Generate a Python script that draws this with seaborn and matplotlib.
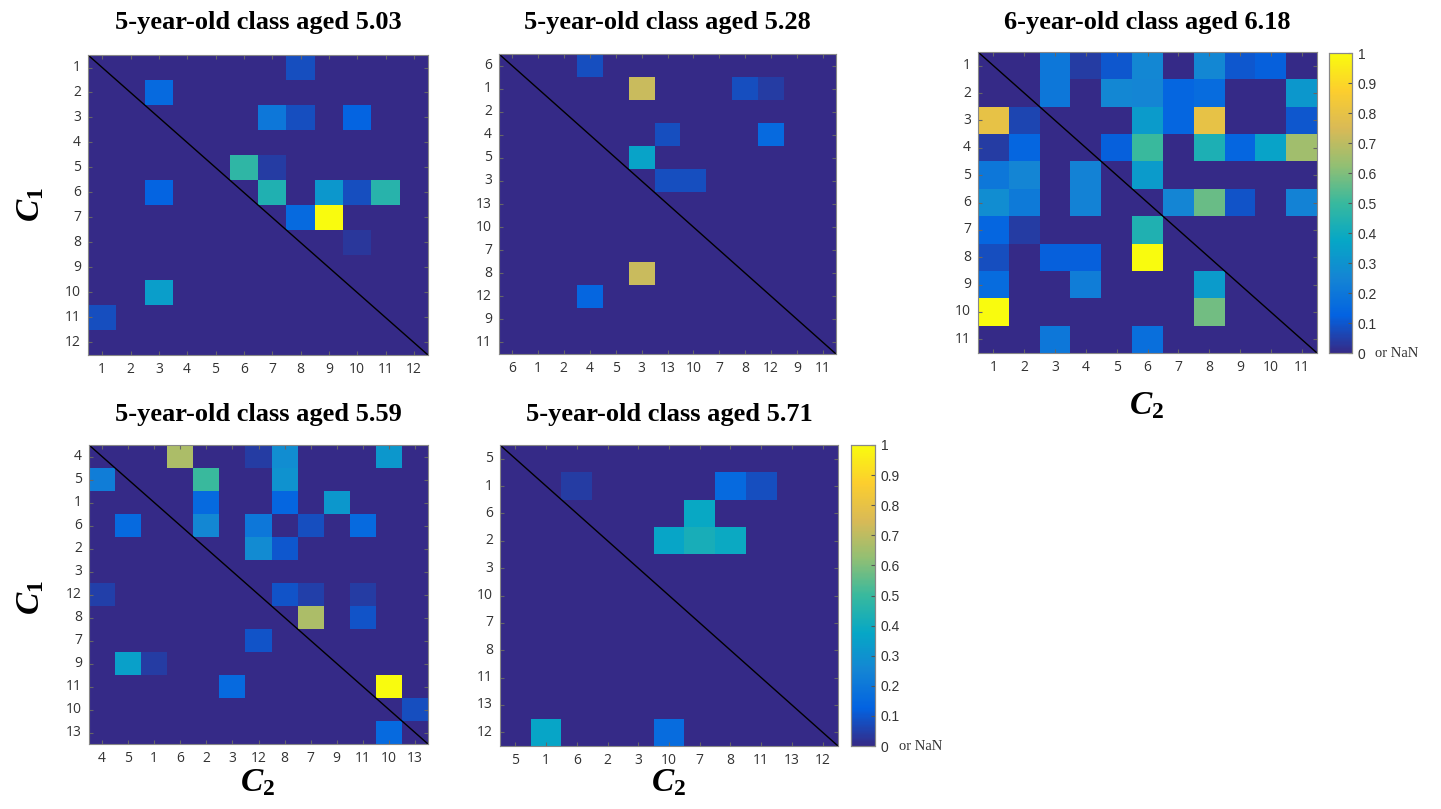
import numpy as np
import matplotlib.pyplot as plt
import seaborn as sns
from matplotlib.colors import LinearSegmentedColormap

# parula-like colormap (MATLAB default)
parula = LinearSegmentedColormap.from_list('parula', [
    '#352a87', '#0363e1', '#1485d4', '#06a7c6', '#38b99e',
    '#92bf73', '#d9ba56', '#fcce2e', '#f9fb0e'])

# --- data ---
titles = ['5-year-old class aged 5.03', '5-year-old class aged 5.28', '6-year-old class aged 6.18',
          '5-year-old class aged 5.59', '5-year-old class aged 5.71']

p1_labels = ['1', '2', '3', '4', '5', '6', '7', '8', '9', '10', '11', '12']
p1_vals = [
    [0, 0, 0, 0, 0, 0, 0, .08, 0, 0, 0, 0],
    [0, 0, .15, 0, 0, 0, 0, 0, 0, 0, 0, 0],
    [0, 0, 0, 0, 0, 0, .2, .08, 0, .13, 0, 0],
    [0, 0, 0, 0, 0, 0, 0, 0, 0, 0, 0, 0],
    [0, 0, 0, 0, 0, .48, .04, 0, 0, 0, 0, 0],
    [0, 0, .13, 0, 0, 0, .44, 0, .32, .08, .46, 0],
    [0, 0, 0, 0, 0, 0, 0, .15, 1, 0, 0, 0],
    [0, 0, 0, 0, 0, 0, 0, 0, 0, .03, 0, 0],
    [0, 0, 0, 0, 0, 0, 0, 0, 0, 0, 0, 0],
    [0, 0, .34, 0, 0, 0, 0, 0, 0, 0, 0, 0],
    [.08, 0, 0, 0, 0, 0, 0, 0, 0, 0, 0, 0],
    [0, 0, 0, 0, 0, 0, 0, 0, 0, 0, 0, 0],
]

p2_labels = ['6', '1', '2', '4', '5', '3', '13', '10', '7', '8', '12', '9', '11']
p2_vals = [
    [0, 0, 0, .08, 0, 0, 0, 0, 0, 0, 0, 0, 0],
    [0, 0, 0, 0, 0, .72, 0, 0, 0, .08, .04, 0, 0],
    [0, 0, 0, 0, 0, 0, 0, 0, 0, 0, 0, 0, 0],
    [0, 0, 0, 0, 0, 0, .08, 0, 0, 0, .15, 0, 0],
    [0, 0, 0, 0, 0, .36, 0, 0, 0, 0, 0, 0, 0],
    [0, 0, 0, 0, 0, 0, .08, .08, 0, 0, 0, 0, 0],
    [0, 0, 0, 0, 0, 0, 0, 0, 0, 0, 0, 0, 0],
    [0, 0, 0, 0, 0, 0, 0, 0, 0, 0, 0, 0, 0],
    [0, 0, 0, 0, 0, 0, 0, 0, 0, 0, 0, 0, 0],
    [0, 0, 0, 0, 0, .72, 0, 0, 0, 0, 0, 0, 0],
    [0, 0, 0, .14, 0, 0, 0, 0, 0, 0, 0, 0, 0],
    [0, 0, 0, 0, 0, 0, 0, 0, 0, 0, 0, 0, 0],
    [0, 0, 0, 0, 0, 0, 0, 0, 0, 0, 0, 0, 0],
]

p3_labels = ['1', '2', '3', '4', '5', '6', '7', '8', '9', '10', '11']
p3_vals = [
    [0, 0, .2, .04, .1, .26, 0, .26, .1, .12, 0],
    [0, 0, .2, 0, .26, .25, .14, .16, 0, 0, .32],
    [.8, .06, 0, 0, 0, .33, .14, .8, 0, 0, .1],
    [.04, .14, 0, 0, .12, .5, 0, .43, .14, .36, .65],
    [.2, .25, 0, .24, 0, .33, 0, 0, 0, 0, 0],
    [.28, .21, 0, .24, 0, 0, .25, .57, .09, 0, .24],
    [.14, .04, 0, 0, 0, .44, 0, 0, 0, 0, 0],
    [.08, 0, .12, .12, 0, 1, 0, 0, 0, 0, 0],
    [.16, 0, 0, .22, 0, 0, 0, .33, 0, 0, 0],
    [1, 0, 0, 0, 0, 0, 0, .58, 0, 0, 0],
    [0, 0, .2, 0, 0, .17, 0, 0, 0, 0, 0],
]

p4_labels = ['4', '5', '1', '6', '2', '3', '12', '8', '7', '9', '11', '10', '13']
p4_vals = [
    [0, 0, 0, .67, 0, 0, .04, .28, 0, 0, 0, .32, 0],
    [.22, 0, 0, 0, .5, 0, 0, .3, 0, 0, 0, 0, 0],
    [0, 0, 0, 0, .15, 0, 0, .14, 0, .32, 0, 0, 0],
    [0, .15, 0, 0, .26, 0, .2, 0, .08, 0, .15, 0, 0],
    [0, 0, 0, 0, 0, 0, .27, .1, 0, 0, 0, 0, 0],
    [0, 0, 0, 0, 0, 0, 0, 0, 0, 0, 0, 0, 0],
    [.05, 0, 0, 0, 0, 0, 0, .09, .05, 0, .04, 0, 0],
    [0, 0, 0, 0, 0, 0, 0, 0, .67, 0, .09, 0, 0],
    [0, 0, 0, 0, 0, 0, .09, 0, 0, 0, 0, 0, 0],
    [0, .35, .04, 0, 0, 0, 0, 0, 0, 0, 0, 0, 0],
    [0, 0, 0, 0, 0, .15, 0, 0, 0, 0, 0, 1, 0],
    [0, 0, 0, 0, 0, 0, 0, 0, 0, 0, 0, 0, .08],
    [0, 0, 0, 0, 0, 0, 0, 0, 0, 0, 0, .15, 0],
]

p5_labels = ['5', '1', '6', '2', '3', '10', '7', '8', '11', '13', '12']
p5_vals = [
    [0, 0, 0, 0, 0, 0, 0, 0, 0, 0, 0],
    [0, 0, .04, 0, 0, 0, 0, .15, .08, 0, 0],
    [0, 0, 0, 0, 0, 0, .38, 0, 0, 0, 0],
    [0, 0, 0, 0, 0, .37, .42, .39, 0, 0, 0],
    [0, 0, 0, 0, 0, 0, 0, 0, 0, 0, 0],
    [0, 0, 0, 0, 0, 0, 0, 0, 0, 0, 0],
    [0, 0, 0, 0, 0, 0, 0, 0, 0, 0, 0],
    [0, 0, 0, 0, 0, 0, 0, 0, 0, 0, 0],
    [0, 0, 0, 0, 0, 0, 0, 0, 0, 0, 0],
    [0, 0, 0, 0, 0, 0, 0, 0, 0, 0, 0],
    [0, .37, 0, 0, 0, .16, 0, 0, 0, 0, 0],
]

cbar_ticks = [0, 0.1, 0.2, 0.3, 0.4, 0.5, 0.6, 0.7, 0.8, 0.9, 1]

# --- layout in pixels ---
W, H = 1441, 809
# bold italic C with bold subscript for the axis labels
plt.rcParams['mathtext.fontset'] = 'custom'
plt.rcParams['mathtext.it'] = 'Liberation Serif:bold:italic'
plt.rcParams['mathtext.rm'] = 'Liberation Serif:bold'
plt.rcParams['mathtext.bf'] = 'Liberation Serif:bold'


def rect(x0, y0, x1, y1):
    return [x0 / W, 1 - y1 / H, (x1 - x0) / W, (y1 - y0) / H]


fig = plt.figure(figsize=(W / 100, H / 100), dpi=100)

panels = [
    (p1_vals, p1_labels, (88, 55, 428, 355), None),
    (p2_vals, p2_labels, (499, 54, 836, 354), None),
    (p3_vals, p3_labels, (978, 52, 1317, 353), (1329, 53, 1352, 353)),
    (p4_vals, p4_labels, (89, 445, 428, 744), None),
    (p5_vals, p5_labels, (500, 445, 838, 746), (851, 445, 875, 746)),
]

tick_font = dict(family='Open Sans', size=10, color='#333333')

for i, (vals, labels, box, cbox) in enumerate(panels):
    ax = fig.add_axes(rect(*box))
    mat = np.array(vals, dtype=float)
    n = len(labels)
    if cbox is not None:
        cax = fig.add_axes(rect(*cbox))
        sns.heatmap(mat, ax=ax, cmap=parula, vmin=0, vmax=1, cbar=True, cbar_ax=cax,
                    xticklabels=labels, yticklabels=labels)
        cax.set_yticks(cbar_ticks)
        cax.set_yticklabels(['0'] + ['%.1f' % t for t in cbar_ticks[1:-1]] + ['1'],
                            family='Liberation Sans', fontsize=10, color='#333333')
        cax.tick_params(axis='y', direction='in', length=3, color='#555555', pad=4)
        for sp in cax.spines.values():
            sp.set_visible(True)
            sp.set_color('#888888')
            sp.set_linewidth(0.8)
        cax.text(2.0, 0, 'or NaN', transform=cax.transAxes, ha='left', va='center',
                 family='Liberation Serif', fontsize=10.5, color='#333333')
    else:
        sns.heatmap(mat, ax=ax, cmap=parula, vmin=0, vmax=1, cbar=False,
                    xticklabels=labels, yticklabels=labels)

    # diagonal line corner to corner
    ax.plot([0, n], [0, n], color='black', lw=1)
    ax.set_xlim(0, n)
    ax.set_ylim(n, 0)

    ax.set_xticklabels(labels, rotation=0, **tick_font)
    ax.set_yticklabels(labels, rotation=0, **tick_font)
    ax.tick_params(direction='in', length=3, color='#666666', top=True, right=True, pad=5)
    for sp in ax.spines.values():
        sp.set_visible(True)
        sp.set_color('#888888')
        sp.set_linewidth(0.8)

    cx = (box[0] + box[2]) / 2
    ty = 22 if box[1] < 100 else 415
    fig.text(cx / W, 1 - ty / H, titles[i], ha='center', va='center',
             family='Liberation Serif', fontweight='bold', fontsize=19)

# axis labels
for yc in (205, 598):
    fig.text(30 / W, 1 - yc / H, r'$C_1$', rotation=90, ha='center', va='center', fontsize=24)
for xc, yc in ((1147, 405), (258, 782), (669, 782)):
    fig.text(xc / W, 1 - yc / H, r'$C_2$', ha='center', va='center', fontsize=24)

plt.savefig('out.png', dpi=100)
